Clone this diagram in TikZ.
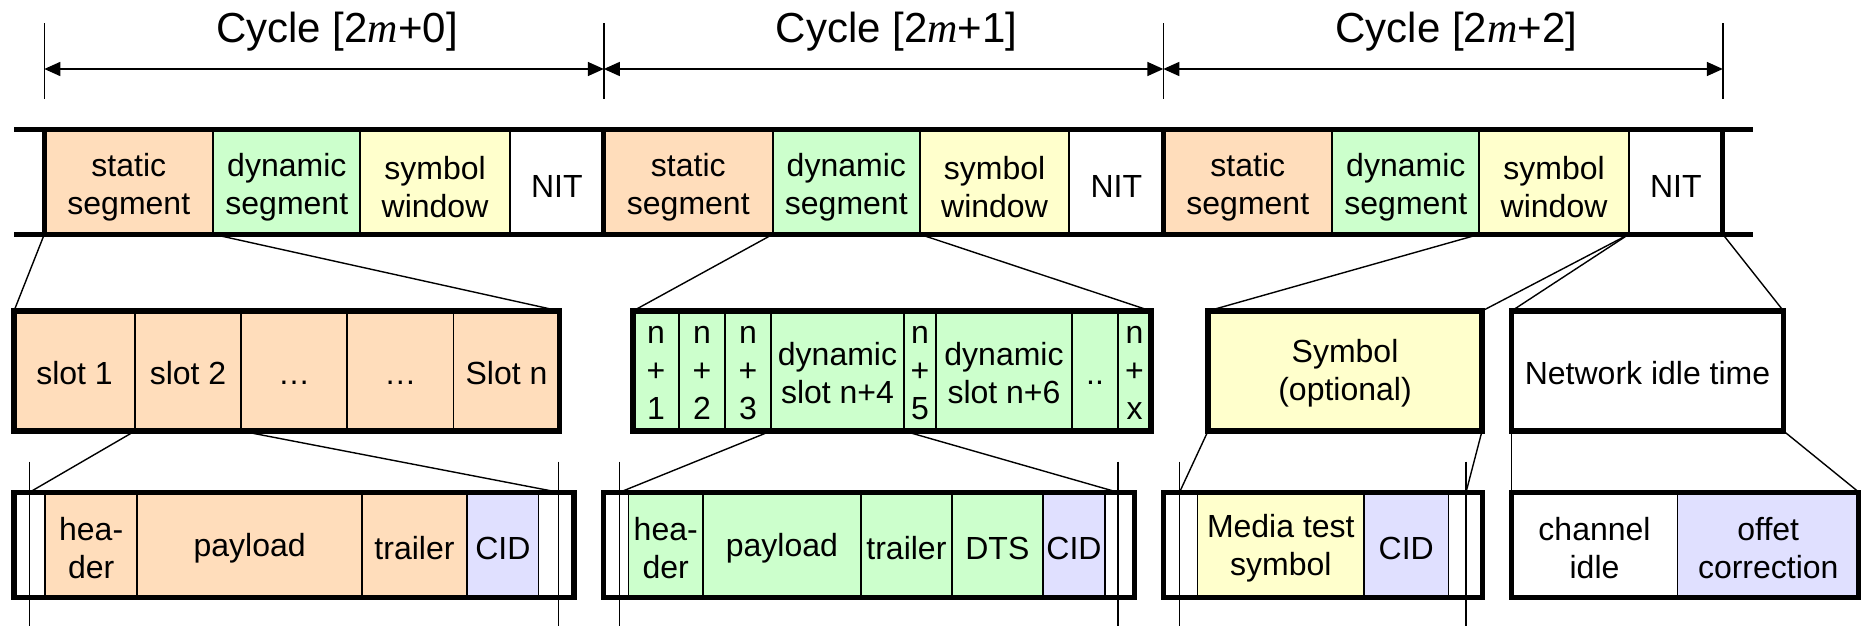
\documentclass[tikz,border=0pt]{standalone}
\usepackage{fontspec}
\setmainfont{Liberation Sans}
\newfontfamily\varfont{Liberation Serif}
\usetikzlibrary{positioning,arrows.meta}

\definecolor{statcol}{RGB}{255,221,187}
\definecolor{dyncol}{RGB}{204,255,204}
\definecolor{symcol}{RGB}{255,255,204}
\definecolor{cidcol}{RGB}{224,224,255}
\newcommand{\cellfont}{\fontsize{16}{19}\selectfont}
\newcommand{\titlefont}{\fontsize{21}{24}\selectfont}
\newcommand{\mvar}{{\varfont\itshape m}}

\tikzset{
  cell/.style={draw, line width=0.85pt, inner sep=0pt, outer sep=0pt},
  celltext/.style={align=center, font=\cellfont, inner sep=0pt},
  cellw/.style={minimum width=#1*0.5pt},
  barcell/.style={cell, minimum height=52.5pt, label={[celltext, yshift=-2.5pt]center:#1}},
  slotcell/.style={cell, minimum height=60pt, label={[celltext, yshift=-1pt]center:#1}},
  framecell/.style={cell, minimum height=52.5pt, label={[celltext, yshift=-1.7pt]center:#1}},
  framecell/.default={},
  thickframe/.style={line width=2.6pt},
  zoomline/.style={line width=0.7pt},
  ticklen/.style={line width=0.75pt},
  cyclearrow/.style={line width=0.75pt, {Triangle[length=8pt,width=7pt]}-{Triangle[length=8pt,width=7pt]}},
}

\begin{document}
\begin{tikzpicture}[x=0.5pt,y=-0.5pt]
\useasboundingbox (0,0) rectangle (1861,626);

\node[barcell=static\\segment, cellw=169, fill=statcol, anchor=west] (st0) at (44.3,181.8) {};
\node[barcell=dynamic\\segment, cellw=147, fill=dyncol, right=0pt of st0] (dy0) {};
\node[barcell=symbol\\window, cellw=149.5, fill=symcol, right=0pt of dy0] (sy0) {};
\node[barcell=NIT, cellw=94, fill=white, right=0pt of sy0] (ni0) {};
\node[barcell=static\\segment, cellw=169, fill=statcol, right=0pt of ni0] (st1) {};
\node[barcell=dynamic\\segment, cellw=147, fill=dyncol, right=0pt of st1] (dy1) {};
\node[barcell=symbol\\window, cellw=149.5, fill=symcol, right=0pt of dy1] (sy1) {};
\node[barcell=NIT, cellw=94, fill=white, right=0pt of sy1] (ni1) {};
\node[barcell=static\\segment, cellw=169, fill=statcol, right=0pt of ni1] (st2) {};
\node[barcell=dynamic\\segment, cellw=147, fill=dyncol, right=0pt of st2] (dy2) {};
\node[barcell=symbol\\window, cellw=149.5, fill=symcol, right=0pt of dy2] (sy2) {};
\node[barcell=NIT, cellw=94, fill=white, right=0pt of sy2] (ni2) {};
\draw[thickframe] (14,129.3) -- (1753.3,129.3) (14,234.3) -- (1753.3,234.3);
\foreach \c in {st0,st1,st2} \draw[thickframe] (\c.north west) -- (\c.south west);
\draw[thickframe] (ni2.north east) -- (ni2.south east);

\coordinate (t0) at (st0.west |- 0,69);
\coordinate (t1) at (st1.west |- 0,69);
\coordinate (t2) at (st2.west |- 0,69);
\coordinate (t3) at (ni2.east |- 0,69);
\foreach \t in {t0,t1,t2,t3} \draw[ticklen] (\t) ++(0,-45.7) -- ++(0,75.7);
\draw[cyclearrow] (t0) -- (t1);
\draw[cyclearrow] (t1) -- (t2);
\draw[cyclearrow] (t2) -- (t3);
\node[font=\titlefont, anchor=base] (cy0) at (337,42.5) {Cycle [2\mvar+0]};
\node[font=\titlefont, anchor=base] (cy1) at (896.7,42.5) {Cycle [2\mvar+1]};
\node[font=\titlefont, anchor=base] (cy2) at (1456.4,42.5) {Cycle [2\mvar+2]};

\node[slotcell=slot 1, cellw=121, fill=statcol, anchor=north west] (sl1) at (14,311) {};
\node[slotcell=slot 2, cellw=106, fill=statcol, right=0pt of sl1] (sl2) {};
\node[slotcell=\vphantom{l}…, cellw=106, fill=statcol, right=0pt of sl2] (sl3) {};
\node[slotcell=\vphantom{l}…, cellw=106.5, fill=statcol, right=0pt of sl3] (sl4) {};
\node[slotcell=Slot n, cellw=106, fill=statcol, right=0pt of sl4] (sln) {};
\draw[thickframe] (sl1.north west) rectangle (sln.south east);

\node[slotcell=n\\+\\1, cellw=46, fill=dyncol, anchor=north west] (dn1) at (633,311) {};
\node[slotcell=n\\+\\2, cellw=46, fill=dyncol, right=0pt of dn1] (dn2) {};
\node[slotcell=n\\+\\3, cellw=46, fill=dyncol, right=0pt of dn2] (dn3) {};
\node[slotcell=dynamic\\slot n+4, cellw=133, fill=dyncol, right=0pt of dn3] (dn4) {};
\node[slotcell=n\\+\\5, cellw=32, fill=dyncol, right=0pt of dn4] (dn5) {};
\node[slotcell=dynamic\\slot n+6, cellw=136, fill=dyncol, right=0pt of dn5] (dn6) {};
\node[slotcell=\vphantom{l}.., cellw=46, fill=dyncol, right=0pt of dn6] (dnd) {};
\node[slotcell=n\\+\\x, cellw=33, fill=dyncol, right=0pt of dnd] (dnx) {};
\draw[thickframe] (dn1.north west) rectangle (dnx.south east);

\node[slotcell=Symbol\\(optional), cellw=274, fill=symcol, anchor=north west] (symb) at (1208,311) {};
\draw[thickframe] (symb.north west) rectangle (symb.south east);
\node[slotcell=Network idle time, cellw=272, fill=white, anchor=north west] (nitb) at (1511.5,311) {};
\draw[thickframe] (nitb.north west) rectangle (nitb.south east);

\draw[zoomline] (st0.south west) -- (sl1.north west);
\draw[zoomline] (st0.south east) -- (sln.north east);
\draw[zoomline] (dy1.south west) -- (dn1.north west);
\draw[zoomline] (dy1.south east) -- (dnx.north east);
\draw[zoomline] (sy2.south west) -- (symb.north west);
\draw[zoomline] (sy2.south east) -- (symb.north east);
\draw[zoomline] (ni2.south west) -- (nitb.north west);
\draw[zoomline] (ni2.south east) -- (nitb.north east);

\node[framecell, cellw=31, fill=white, anchor=north west] (fe0) at (14,492.3) {};
\node[framecell=hea-\\der, cellw=92.3, fill=statcol, right=0pt of fe0] (fe1) {};
\node[framecell=payload, cellw=224.7, fill=statcol, right=0pt of fe1] (fe2) {};
\node[framecell=trailer, cellw=105, fill=statcol, right=0pt of fe2] (fe3) {};
\node[framecell=CID, cellw=71.6, fill=cidcol, right=0pt of fe3] (fe4) {};
\node[framecell, cellw=35.4, fill=white, right=0pt of fe4] (fe5) {};
\draw[thickframe] (fe0.north west) rectangle (fe5.south east);

\node[framecell, cellw=25, fill=white, anchor=north west] (ff0) at (603.6,492.3) {};
\node[framecell=hea-\\der, cellw=74.3, fill=dyncol, right=0pt of ff0] (ff1) {};
\node[framecell=payload, cellw=158.1, fill=dyncol, right=0pt of ff1] (ff2) {};
\node[framecell=trailer, cellw=90.8, fill=dyncol, right=0pt of ff2] (ff3) {};
\node[framecell=DTS, cellw=91.1, fill=dyncol, right=0pt of ff3] (ff4) {};
\node[framecell=CID, cellw=62.1, fill=cidcol, right=0pt of ff4] (ff5) {};
\node[framecell, cellw=29.6, fill=white, right=0pt of ff5] (ff6) {};
\draw[thickframe] (ff0.north west) rectangle (ff6.south east);

\node[framecell, cellw=34, fill=white, anchor=north west] (fg0) at (1163.6,492.3) {};
\node[framecell=Media test\\symbol, cellw=166.4, fill=symcol, right=0pt of fg0] (fg1) {};
\node[framecell=CID, cellw=84.4, fill=cidcol, right=0pt of fg1] (fg2) {};
\node[framecell, cellw=34, fill=white, right=0pt of fg2] (fg3) {};
\draw[thickframe] (fg0.north west) rectangle (fg3.south east);

\node[framecell=channel\\idle, cellw=166, fill=white, anchor=north west] (fh1) at (1511.5,492.3) {};
\node[framecell=offet\\correction, cellw=181.5, fill=cidcol, right=0pt of fh1] (fh2) {};
\draw[thickframe] (fh1.north west) rectangle (fh2.south east);

\coordinate (e0) at (29.5,492.3);
\coordinate (e1) at (558.7,492.3);
\coordinate (f0) at (619.6,492.3);
\coordinate (f1) at (1117.9,492.3);
\coordinate (g0) at (1179.5,492.3);
\coordinate (g1) at (1466,492.3);
\foreach \p in {e0,e1,f0,f1,g0,g1} \draw[ticklen] (\p |- 0,461.7) -- (\p |- 0,626);

\draw[zoomline] (sl2.south west) -- (e0);
\draw[zoomline] (sl2.south east) -- (e1);
\draw[zoomline] (dn4.south west) -- (f0);
\draw[zoomline] (dn4.south east) -- (f1);
\draw[zoomline] (symb.south west) -- (g0);
\draw[zoomline] (symb.south east) -- (g1);
\draw[zoomline] (nitb.south west) -- (fh1.north west);
\draw[zoomline] (nitb.south east) -- (fh2.north east);
\end{tikzpicture}
\end{document}
